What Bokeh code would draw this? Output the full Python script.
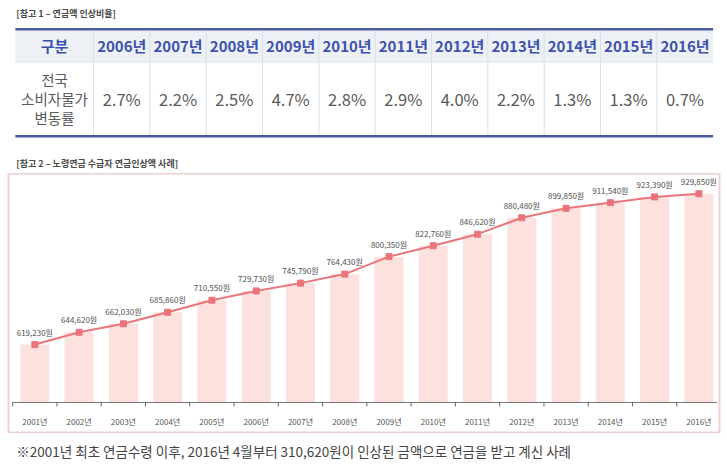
import math
from bokeh.plotting import figure
from bokeh.models import Range1d
from bokeh.layouts import column
from bokeh.core.properties import value
from bokeh.embed import file_html
from bokeh.resources import INLINE

FONT = "Noto Sans CJK KR"

# ---------------- data ----------------
table_title = "[참고 1 – 연금액 인상비율]"
table_header = "구분"
table_row_label = ["전국", "소비자물가", "변동률"]
table_years = ["2006년", "2007년", "2008년", "2009년", "2010년", "2011년",
               "2012년", "2013년", "2014년", "2015년", "2016년"]
cpi_change = [2.7, 2.2, 2.5, 4.7, 2.8, 2.9, 4.0, 2.2, 1.3, 1.3, 0.7]

chart_title = "[참고 2 – 노령연금 수급자 연금인상액 사례]"
chart_years = ["2001년", "2002년", "2003년", "2004년", "2005년", "2006년",
               "2007년", "2008년", "2009년", "2010년", "2011년", "2012년",
               "2013년", "2014년", "2015년", "2016년"]
pension = [619230, 644620, 662030, 685860, 710550, 729730, 745790, 764430,
           800350, 822760, 846620, 880480, 899850, 911540, 923390, 929850]
footnote = "※2001년 최초 연금수령 이후, 2016년 4월부터 310,620원이 인상된 금액으로 연금을 받고 계신 사례"

W = 727


def bare(fig):
    fig.min_border_left = fig.min_border_right = 0
    fig.min_border_top = fig.min_border_bottom = 0
    fig.grid.visible = False
    fig.outline_line_color = None
    fig.background_fill_color = "white"
    fig.border_fill_color = "white"


# ---------------- top: table ----------------
top = figure(width=W, height=173, x_range=Range1d(0, W), y_range=Range1d(173, 0),
             output_backend="svg", toolbar_location=None, min_border=0,
             x_axis_location=None, y_axis_location=None)
bare(top)

t_left, t_right = 7, 720.5
first_w = 80
ncol = len(table_years)
col_w = (t_right - t_left - first_w) / ncol
edges = [t_left, t_left + first_w] + [t_left + first_w + col_w * (i + 1) for i in range(ncol)]
centers = [(edges[i] + edges[i + 1]) / 2 for i in range(len(edges) - 1)]
head_top, head_bot, body_bot = 30, 61, 134.5

top.quad(left=[t_left], right=[t_right], top=[head_top], bottom=[head_bot],
         fill_color="#edf1f6", line_color=None)
top.segment(x0=edges[1:-1], y0=[head_top] * (len(edges) - 2), x1=edges[1:-1],
            y1=[body_bot] * (len(edges) - 2), line_color="#d5e0e8", line_width=1)
top.segment(x0=[t_left], y0=[head_bot + 0.5], x1=[t_right], y1=[head_bot + 0.5],
            line_color="#d5e0e8", line_width=1)
top.quad(left=[t_left], right=[t_right], top=[27.5], bottom=[head_top],
         fill_color="#4a5b9e", line_color=None)
top.quad(left=[t_left], right=[t_right], top=[body_bot], bottom=[137],
         fill_color="#4a5b9e", line_color=None)

top.text(x=centers, y=[45] * len(centers), text=[table_header] + table_years,
         text_font=value(FONT), text_font_size="15px", text_font_style="bold",
         text_color="#3d52ad", text_align="center", text_baseline="middle")
top.text(x=centers[1:], y=[98] * ncol, text=[f"{v:.1f}%" for v in cpi_change],
         text_font=value(FONT), text_font_size="16.5px", text_color="#5a5a5a",
         text_align="center", text_baseline="middle")
top.text(x=[centers[0]] * 3, y=[79, 98, 117], text=table_row_label,
         text_font=value(FONT), text_font_size="14.5px", text_color="#5a5a5a",
         text_align="center", text_baseline="middle")

top.text(x=[8, 8], y=[13, 163], text=[table_title, chart_title],
         text_font=value(FONT), text_font_size="9px", text_font_style="bold",
         text_color="#4a4a4a", text_align="left", text_baseline="middle")

# ---------------- middle: chart ----------------
idx = list(range(len(chart_years)))
floor = 500000  # value at the category-axis line
ch = figure(width=W, height=260, x_range=Range1d(-0.595, 15.466),
            y_range=Range1d(436100, 971600), output_backend="svg",
            toolbar_location=None, x_axis_location=None, y_axis_location=None)
bare(ch)
ch.min_border_left = 8
ch.min_border_right = 8
ch.outline_line_color = "#f2d0d0"
ch.outline_line_width = 2

ch.vbar(x=idx, top=pension, bottom=floor, width=0.655, fill_color="#fde1de", line_color=None)
ch.line(x=idx, y=pension, line_color="#e9757a", line_width=2)
ch.scatter(x=idx, y=pension, marker="square", size=6, fill_color="#e9757a", line_color="#e9757a")
ch.text(x=idx, y=pension, text=[f"{v:,}원" for v in pension],
        text_font=value(FONT), text_font_size="8px", text_color="#505050",
        text_align="center", text_baseline="bottom", y_offset=-7)

# category axis
ch.segment(x0=[-0.5], y0=[floor], x1=[15.41], y1=[floor], line_color="#777777", line_width=1)
ch.ray(x=[i - 0.5 for i in idx], y=[floor] * len(idx), length=4, length_units="screen",
       angle=-math.pi / 2, line_color="#666666", line_width=1)
ch.text(x=idx, y=[floor] * len(idx), text=chart_years, y_offset=19,
        text_font=value(FONT), text_font_size="8px", text_color="#555555",
        text_align="center", text_baseline="middle")

# ---------------- bottom: footnote ----------------
foot = figure(width=W, height=36, x_range=Range1d(0, W), y_range=Range1d(469, 433),
              output_backend="svg", toolbar_location=None,
              x_axis_location=None, y_axis_location=None)
bare(foot)
foot.text(x=[8], y=[450], text=[footnote], text_font=value(FONT), text_font_size="13.5px",
          text_color="#444444", text_align="left", text_baseline="middle")

layout = column(top, ch, foot, spacing=0)

with open("out.html", "w", encoding="utf-8") as f:
    f.write(file_html(layout, INLINE))
